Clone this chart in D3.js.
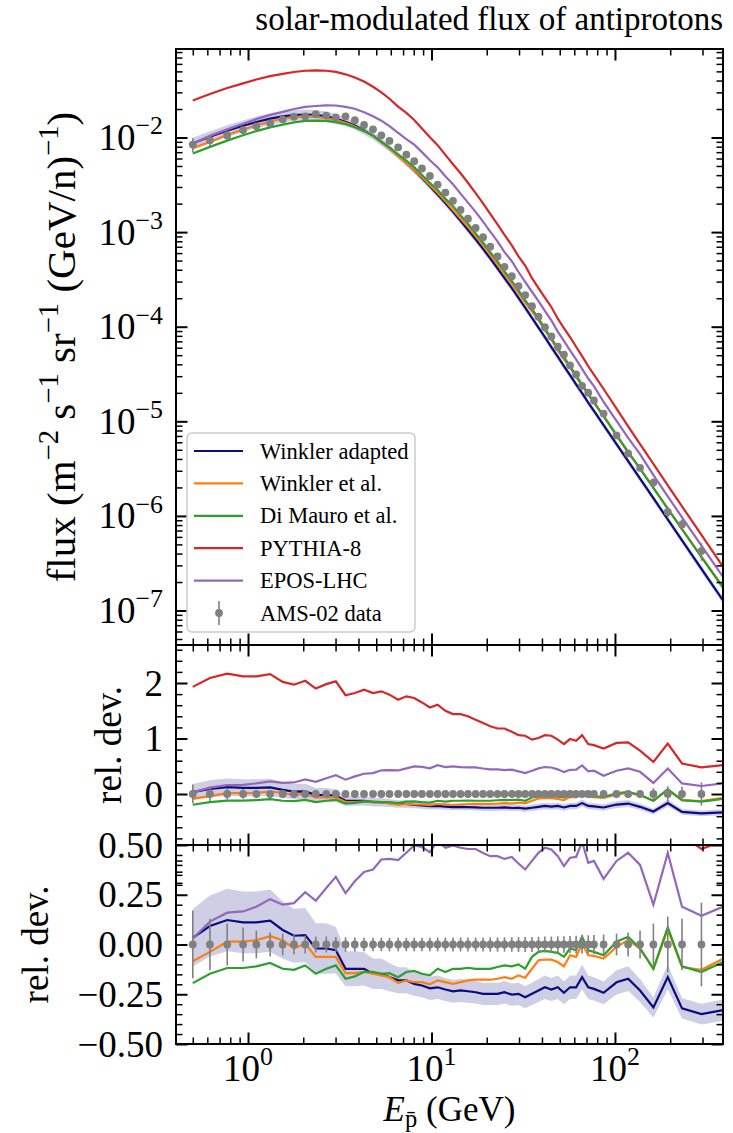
<!DOCTYPE html>
<html>
<head>
<meta charset="utf-8">
<script src="https://cdn.jsdelivr.net/npm/d3@7"></script>
<style>
  body { margin: 0; background: #fff; }
  svg { display: block; }
  text { font-family: "Liberation Serif", "Times New Roman", serif; fill: #000; }
</style>
</head>
<body>
<svg id="chart" width="733" height="1133"></svg>
<script>
// Kinetic energy of the AMS-02 antiproton bins (GeV)
const energy = [0.50,0.62,0.77,0.94,1.11,1.32,1.545,1.78,2.05,2.34,2.67,3.01,3.40,3.82,4.29,4.80,5.33,5.90,6.58,7.29,8.05,8.87,9.80,10.8,11.9,13.1,14.4,15.8,17.4,19.1,20.9,22.9,25.0,27.4,29.8,32.4,35.3,38.3,41.5,45.0,48.8,52.7,56.9,61.4,66.2,71.5,76.8,86.7,102,118,137,162,194,232,296,420];

// Measured flux (m^-2 s^-1 sr^-1 (GeV/n)^-1)
const amsFlux = [8.41e-3,9.33e-3,1.051e-2,1.197e-2,1.314e-2,1.411e-2,1.556e-2,1.657e-2,1.671e-2,1.765e-2,
  1.704e-2,1.627e-2,1.674e-2,1.526e-2,1.355e-2,1.219e-2,1.055e-2,9.21e-3,7.87e-3,6.59e-3,
  5.61e-3,4.70e-3,3.92e-3,3.18e-3,2.62e-3,2.14e-3,1.716e-3,1.386e-3,1.105e-3,8.84e-4,
  7.01e-4,5.52e-4,4.30e-4,3.42e-4,2.69e-4,2.16e-4,1.649e-4,1.274e-4,9.87e-5,7.88e-5,
  6.14e-5,5.07e-5,3.91e-5,3.13e-5,2.37e-5,2.01e-5,1.66e-5,1.206e-5,7.10e-6,4.58e-6,
  3.22e-6,2.25e-6,1.10e-6,8.13e-7,4.25e-7,1.51e-7];

// Relative uncertainty of the measurement
const amsErr = [0.17,0.13,0.105,0.085,0.07,0.06,0.055,0.05,0.045,0.04,
  0.04,0.038,0.036,0.035,0.034,0.034,0.034,0.034,0.034,0.034,
  0.034,0.034,0.034,0.035,0.035,0.035,0.035,0.035,0.035,0.035,
  0.036,0.036,0.036,0.037,0.037,0.038,0.038,0.039,0.04,0.04,
  0.041,0.042,0.043,0.044,0.045,0.046,0.048,0.05,0.055,0.06,
  0.07,0.105,0.14,0.13,0.21,0.3];

// Relative deviation (model - data) / data for each cross-section model
const relWinklerAdapted = [0.034,0.093,0.123,0.111,0.111,0.12,0.073,0.044,0.047,-0.02,
  -0.02,-0.029,-0.122,-0.122,-0.122,-0.147,-0.147,-0.164,-0.18,-0.18,
  -0.198,-0.206,-0.22,-0.215,-0.226,-0.235,-0.231,-0.235,-0.24,-0.248,
  -0.248,-0.248,-0.24,-0.252,-0.248,-0.265,-0.248,-0.231,-0.215,-0.226,
  -0.215,-0.243,-0.215,-0.215,-0.164,-0.215,-0.223,-0.243,-0.19,-0.172,
  -0.231,-0.316,-0.164,-0.321,-0.35,-0.324];
const relWinkler = [-0.084,-0.037,0.014,0.014,0.022,0.042,0.022,-0.02,0.005,-0.062,
  -0.062,-0.062,-0.144,-0.144,-0.138,-0.147,-0.155,-0.164,-0.194,-0.18,
  -0.189,-0.189,-0.2,-0.18,-0.189,-0.198,-0.189,-0.18,-0.177,-0.177,
  -0.177,-0.172,-0.164,-0.172,-0.155,-0.167,-0.122,-0.079,-0.076,-0.076,
  -0.088,-0.11,-0.054,-0.062,0.005,-0.054,-0.057,-0.071,-0.012,0.022,
  -0.02,-0.122,0.076,-0.113,-0.127,-0.055];
const relDiMauro = [-0.194,-0.147,-0.118,-0.118,-0.11,-0.093,-0.122,-0.127,-0.105,-0.147,
  -0.122,-0.105,-0.172,-0.16,-0.138,-0.138,-0.147,-0.144,-0.164,-0.138,
  -0.133,-0.147,-0.155,-0.122,-0.138,-0.122,-0.122,-0.117,-0.122,-0.122,
  -0.122,-0.113,-0.105,-0.11,-0.1,-0.122,-0.062,-0.037,-0.032,-0.037,
  -0.042,-0.062,-0.02,-0.029,0.039,-0.029,-0.037,-0.054,0.014,0.039,
  -0.02,-0.122,0.086,-0.11,-0.138,-0.073];
const relPythia = [1.93,2.09,2.17,2.12,2.12,2.16,2.02,1.97,2.04,1.90,
  1.98,2.03,1.78,1.82,1.88,1.82,1.85,1.79,1.70,1.76,
  1.73,1.65,1.56,1.61,1.50,1.44,1.44,1.40,1.34,1.28,
  1.22,1.18,1.18,1.12,1.06,1.05,0.98,1.01,1.06,1.05,
  0.98,0.90,0.99,0.96,1.06,0.90,0.88,0.82,0.92,0.93,
  0.78,0.58,0.91,0.55,0.48,0.532];
const relEpos = [0.03,0.115,0.16,0.166,0.19,0.228,0.2,0.208,0.263,0.22,
  0.284,0.34,0.258,0.318,0.365,0.377,0.427,0.43,0.424,0.461,
  0.498,0.49,0.464,0.52,0.486,0.498,0.486,0.48,0.48,0.46,
  0.444,0.444,0.43,0.44,0.407,0.377,0.42,0.461,0.486,0.478,
  0.444,0.394,0.436,0.44,0.515,0.41,0.42,0.33,0.42,0.461,
  0.40,0.20,0.46,0.19,0.144,0.203];

// Relative half-width of the "Winkler adapted" uncertainty band
const bandWidth = [0.14,0.14,0.14,0.14,0.14,0.14,0.135,0.13,0.13,0.13,
  0.13,0.12,0.10,0.10,0.095,0.09,0.09,0.085,0.08,0.08,
  0.075,0.075,0.075,0.075,0.075,0.075,0.075,0.075,0.075,0.075,
  0.075,0.075,0.075,0.075,0.075,0.075,0.075,0.075,0.075,0.075,
  0.075,0.075,0.075,0.075,0.075,0.075,0.075,0.075,0.075,0.075,
  0.075,0.075,0.075,0.075,0.08,0.08];

const modelNames = ["Winkler adapted", "Winkler et al.", "Di Mauro et al.", "PYTHIA-8", "EPOS-LHC"];
const modelColors = ["#0b0b7e", "#ff7f0e", "#2ca02c", "#d62728", "#9467bd"];
const modelRel = [relWinklerAdapted, relWinkler, relDiMauro, relPythia, relEpos];
const dataName = "AMS-02 data";

const xMajor = [1, 10, 100];
const fluxMajor = [1e-7, 1e-6, 1e-5, 1e-4, 1e-3, 1e-2];
const midMajor = [0, 1, 2];
const botMajor = [-0.5, -0.25, 0, 0.25, 0.5];
const botLabels = ["\u22120.50", "\u22120.25", "0.00", "0.25", "0.50"];

// ---------- layout ----------
const svg = d3.select("#chart");
const L = 176, R = 723;
const P = { top: [49, 645], mid: [645, 845], bot: [845, 1044] };
const FS = 37;

const x = d3.scaleLog().domain([0.405, 388]).range([L, R]);
const yTop = d3.scaleLog().domain([4.32e-8, 0.0862]).range([P.top[1], P.top[0]]);
const yMid = d3.scaleLinear().domain([-0.919, 2.685]).range([P.mid[1], P.mid[0]]);
const yBot = d3.scaleLinear().domain([-0.5, 0.5]).range([P.bot[1], P.bot[0]]);

const rows = energy.map((e, i) => ({ e, f: amsFlux[i], s: amsErr[i], w: bandWidth[i], n: relWinklerAdapted[i] }));

const defs = svg.append("defs");
Object.entries(P).forEach(([k, [t, b]]) => {
  defs.append("clipPath").attr("id", "clip-" + k)
    .append("rect").attr("x", L).attr("y", t).attr("width", R - L).attr("height", b - t);
});

// ---------- top panel: flux ----------
const gTop = svg.append("g").attr("clip-path", "url(#clip-top)");
gTop.append("path").datum(rows)
  .attr("fill", "#0b0b7e").attr("fill-opacity", 0.2)
  .attr("d", d3.area().x(d => x(d.e))
    .y0(d => yTop(d.f * (1 + d.n) * (1 - d.w)))
    .y1(d => yTop(d.f * (1 + d.n) * (1 + d.w))));
modelRel.forEach((rel, m) => {
  gTop.append("path").datum(rows.map((d, i) => ({ e: d.e, v: d.f * (1 + rel[i]) })))
    .attr("fill", "none").attr("stroke", modelColors[m]).attr("stroke-width", 2.2)
    .attr("d", d3.line().x(d => x(d.e)).y(d => yTop(d.v)));
});
gTop.selectAll(".ebar").data(rows).join("line")
  .attr("x1", d => x(d.e)).attr("x2", d => x(d.e))
  .attr("y1", d => yTop(d.f * (1 - d.s))).attr("y2", d => yTop(d.f * (1 + d.s)))
  .attr("stroke", "gray").attr("stroke-width", 1.6);
gTop.selectAll(".dot").data(rows).join("circle")
  .attr("cx", d => x(d.e)).attr("cy", d => yTop(d.f)).attr("r", 3.9).attr("fill", "gray");

// ---------- ratio panels ----------
function ratioPanel(key, y) {
  const g = svg.append("g").attr("clip-path", `url(#clip-${key})`);
  g.append("path").datum(rows)
    .attr("fill", "#0b0b7e").attr("fill-opacity", 0.2)
    .attr("d", d3.area().x(d => x(d.e))
      .y0(d => y((1 + d.n) * (1 - d.w) - 1))
      .y1(d => y((1 + d.n) * (1 + d.w) - 1)));
  modelRel.forEach((rel, m) => {
    g.append("path").datum(rows.map((d, i) => ({ e: d.e, v: rel[i] })))
      .attr("fill", "none").attr("stroke", modelColors[m]).attr("stroke-width", 2.2)
      .attr("d", d3.line().x(d => x(d.e)).y(d => y(d.v)));
  });
  g.selectAll(".ebar").data(rows).join("line")
    .attr("x1", d => x(d.e)).attr("x2", d => x(d.e))
    .attr("y1", d => y(-d.s)).attr("y2", d => y(d.s))
    .attr("stroke", "gray").attr("stroke-width", 1.6);
  g.selectAll(".dot").data(rows).join("circle")
    .attr("cx", d => x(d.e)).attr("cy", y(0)).attr("r", 3.9).attr("fill", "gray");
}
ratioPanel("mid", yMid);
ratioPanel("bot", yBot);

// ---------- ticks (inward, on all four sides) ----------
function logTicks(lo, hi) {
  const out = [];
  for (let d = Math.floor(Math.log10(lo)); d <= Math.ceil(Math.log10(hi)); d++)
    for (let k = 2; k < 10; k++) { const v = k * Math.pow(10, d); if (v >= lo && v <= hi) out.push(v); }
  return out;
}
const MAJ = 11.5, MIN = 6.5;
function tickSet(axisFn, scale, pos, values, len, width) {
  svg.append("g").attr("transform", pos)
    .call(axisFn(scale).tickValues(values).tickSize(-len).tickFormat(""))
    .call(g => { g.select(".domain").remove(); g.selectAll("line").attr("stroke", "#000").attr("stroke-width", width); });
}
const xMinor = logTicks(x.domain()[0], x.domain()[1]);
Object.values(P).forEach(([t, b]) => {
  tickSet(d3.axisBottom, x, `translate(0,${b})`, xMajor, MAJ, 2);
  tickSet(d3.axisBottom, x, `translate(0,${b})`, xMinor, MIN, 1.5);
  tickSet(d3.axisTop, x, `translate(0,${t})`, xMajor, MAJ, 2);
  tickSet(d3.axisTop, x, `translate(0,${t})`, xMinor, MIN, 1.5);
});
function yTicks(scale, major, minor) {
  tickSet(d3.axisLeft, scale, `translate(${L},0)`, major, MAJ, 2);
  tickSet(d3.axisLeft, scale, `translate(${L},0)`, minor, MIN, 1.5);
  tickSet(d3.axisRight, scale, `translate(${R},0)`, major, MAJ, 2);
  tickSet(d3.axisRight, scale, `translate(${R},0)`, minor, MIN, 1.5);
}
yTicks(yTop, fluxMajor, logTicks(yTop.domain()[0], yTop.domain()[1]));
yTicks(yMid, midMajor, d3.range(-8, 14).map(k => k * 0.2).filter(v => Math.abs(v - Math.round(v)) > 1e-6));
yTicks(yBot, botMajor, d3.range(-9, 10).map(k => k * 0.05).filter(v => Math.abs(v * 4 - Math.round(v * 4)) > 1e-6));

// ---------- frames ----------
Object.values(P).forEach(([t, b]) => {
  svg.append("rect").attr("x", L).attr("y", t).attr("width", R - L).attr("height", b - t)
    .attr("fill", "none").attr("stroke", "#000").attr("stroke-width", 2);
});

// ---------- tick labels ----------
function addSup(text, s, fs) {
  text.append("tspan").attr("font-size", fs * 0.7).attr("dy", -fs * 0.42).text(s);
  return text;
}
function powText(sel, exp, fs) {
  sel.append("tspan").text("10");
  addSup(sel, exp < 0 ? "\u2212" + (-exp) : String(exp), fs);
}
fluxMajor.forEach(v => {
  const t = svg.append("text").attr("x", 163).attr("y", yTop(v) + 12.5)
    .attr("text-anchor", "end").attr("font-size", FS);
  powText(t, Math.round(Math.log10(v)), FS);
});
midMajor.forEach(v => {
  svg.append("text").attr("x", 163).attr("y", yMid(v) + 12.5)
    .attr("text-anchor", "end").attr("font-size", FS).text(String(v));
});
botMajor.forEach((v, i) => {
  svg.append("text").attr("x", 163).attr("y", yBot(v) + 12.5)
    .attr("text-anchor", "end").attr("font-size", FS).text(botLabels[i]);
});
xMajor.forEach(v => {
  const t = svg.append("text").attr("x", x(v)).attr("y", 1081)
    .attr("text-anchor", "middle").attr("font-size", FS);
  powText(t, Math.round(Math.log10(v)), FS);
});

// ---------- axis titles ----------
const XFS = 35;
const xl = svg.append("text").attr("x", (L + R) / 2).attr("y", 1121)
  .attr("text-anchor", "middle").attr("font-size", XFS);
xl.append("tspan").attr("font-style", "italic").text("E");
xl.append("tspan").attr("font-size", XFS * 0.7).attr("dy", 6).text("p\u0304");
xl.append("tspan").attr("dy", -6).text(" (GeV)");

const YFS = 41;
const yl = svg.append("text").attr("transform", `translate(75,${(P.top[0] + P.top[1]) / 2}) rotate(-90)`)
  .attr("text-anchor", "middle").attr("font-size", YFS);
[["flux (m", "\u22122"], [" s", "\u22121"], [" sr", "\u22121"], [" (GeV/n)", "\u22121"], [")", null]]
  .forEach(([base, sup], i) => {
    const b = yl.append("tspan").text(base);
    if (i > 0) b.attr("dy", YFS * 0.42);
    if (sup) addSup(yl, sup, YFS);
  });

svg.append("text").attr("transform", `translate(121,${(P.mid[0] + P.mid[1]) / 2}) rotate(-90)`)
  .attr("text-anchor", "middle").attr("font-size", FS).text("rel. dev.");
svg.append("text").attr("transform", `translate(48,${(P.bot[0] + P.bot[1]) / 2}) rotate(-90)`)
  .attr("text-anchor", "middle").attr("font-size", FS).text("rel. dev.");

svg.append("text").attr("x", R).attr("y", 30).attr("text-anchor", "end")
  .attr("font-size", 33).text("solar-modulated flux of antiprotons");

// ---------- legend ----------
const lg = svg.append("g");
lg.append("rect").attr("x", 187).attr("y", 433).attr("width", 228).attr("height", 199).attr("rx", 5)
  .attr("fill", "#fff").attr("fill-opacity", 0.8).attr("stroke", "#cccccc").attr("stroke-width", 1.5);
const legendItems = modelNames.map((n, i) => ({ name: n, color: modelColors[i], kind: "line" }))
  .concat([{ name: dataName, color: "gray", kind: "data" }]);
legendItems.forEach((it, i) => {
  const cy = 451 + i * 32.4;
  if (it.kind === "line") {
    lg.append("line").attr("x1", 194).attr("x2", 243).attr("y1", cy).attr("y2", cy)
      .attr("stroke", it.color).attr("stroke-width", 2.2);
  } else {
    lg.append("line").attr("x1", 219).attr("x2", 219).attr("y1", cy - 12).attr("y2", cy + 12)
      .attr("stroke", it.color).attr("stroke-width", 1.6);
    lg.append("circle").attr("cx", 219).attr("cy", cy).attr("r", 3.9).attr("fill", it.color);
  }
  lg.append("text").attr("x", 260).attr("y", cy + 7.5).attr("font-size", 22.5).text(it.name);
});
</script>
</body>
</html>
